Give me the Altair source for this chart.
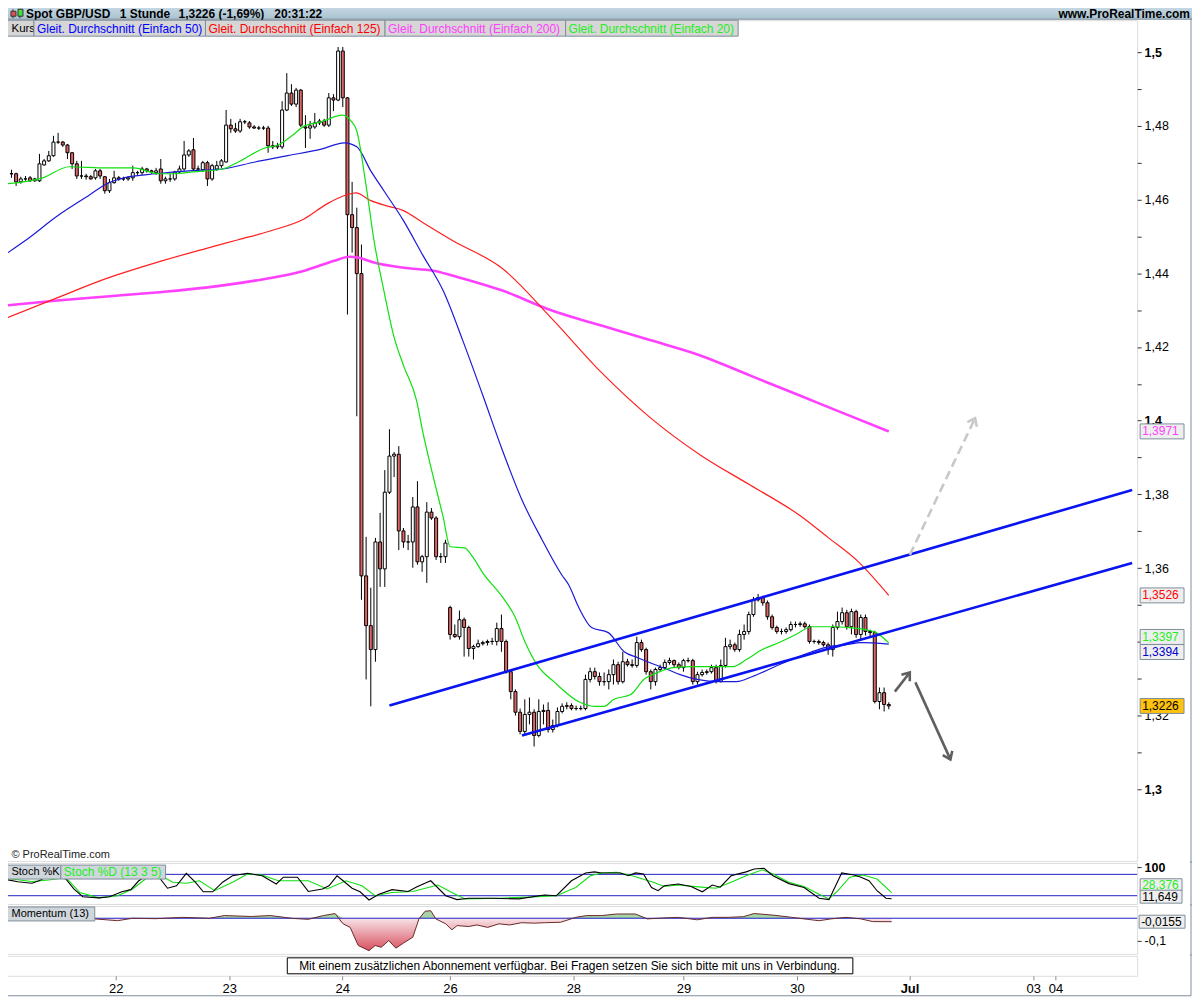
import altair as alt
import pandas as pd

FONT = "Liberation Sans"
FRAME = "#7f8e9b"
CANDLE_RED = "#e06464"

# ---------------- hourly candles GBP/USD ----------------
bar_open = [1.4670,1.4670,1.4648,1.4656,1.4659,1.4651,1.4651,1.4694,1.4705,1.4719,
 1.4756,1.4756,1.4748,1.4727,1.4697,1.4664,1.4664,1.4662,1.4659,1.4678,
 1.4662,1.4624,1.4646,1.4659,1.4656,1.4656,1.4659,1.4673,1.4673,1.4683,
 1.4678,1.4673,1.4683,1.4651,1.4656,1.4656,1.4675,1.4683,1.4721,1.4735,
 1.4683,1.4681,1.4700,1.4656,1.4683,1.4692,1.4702,1.4802,1.4792,1.4786,
 1.4811,1.4808,1.4797,1.4794,1.4794,1.4794,1.4746,1.4743,1.4743,1.4843,
 1.4889,1.4859,1.4897,1.4797,1.4794,1.4797,1.4808,1.4813,1.4802,1.4876,
 1.4870,1.5003,1.4876,1.4559,1.4524,1.4399,1.3579,1.3444,1.3379,1.3671,
 1.3598,1.3806,1.3904,1.3909,1.3701,1.3671,1.3671,1.3766,1.3617,1.3631,
 1.3752,1.3736,1.3631,1.3631,1.3493,1.3420,1.3414,1.3460,1.3439,1.3382,
 1.3387,1.3395,1.3398,1.3401,1.3401,1.3436,1.3401,1.3319,1.3265,1.3209,
 1.3157,1.3203,1.3209,1.3146,1.3211,1.3214,1.3162,1.3173,1.3211,1.3225,
 1.3227,1.3219,1.3219,1.3219,1.3298,1.3319,1.3306,1.3292,1.3292,1.3311,
 1.3338,1.3292,1.3346,1.3338,1.3336,1.3398,1.3379,1.3319,1.3292,1.3325,
 1.3330,1.3344,1.3349,1.3338,1.3330,1.3349,1.3349,1.3292,1.3311,1.3317,
 1.3319,1.3330,1.3292,1.3336,1.3387,1.3392,1.3379,1.3420,1.3428,1.3474,
 1.3514,1.3520,1.3506,1.3468,1.3439,1.3428,1.3428,1.3433,1.3447,1.3447,
 1.3449,1.3441,1.3401,1.3401,1.3398,1.3392,1.3379,1.3439,1.3455,1.3479,
 1.3441,1.3482,1.3420,1.3466,1.3428,1.3425,1.3238,1.3262,1.3230]
bar_high = [1.4681,1.4673,1.4662,1.4664,1.4664,1.4659,1.4724,1.4710,1.4732,1.4773,
 1.4781,1.4759,1.4751,1.4729,1.4705,1.4705,1.4670,1.4667,1.4683,1.4683,
 1.4664,1.4656,1.4678,1.4664,1.4662,1.4664,1.4692,1.4678,1.4689,1.4686,
 1.4681,1.4686,1.4710,1.4662,1.4670,1.4678,1.4692,1.4759,1.4737,1.4767,
 1.4692,1.4705,1.4705,1.4697,1.4705,1.4710,1.4843,1.4819,1.4808,1.4819,
 1.4816,1.4813,1.4802,1.4800,1.4800,1.4800,1.4759,1.4754,1.4867,1.4943,
 1.4913,1.4903,1.4900,1.4829,1.4813,1.4835,1.4819,1.4819,1.4889,1.4886,
 1.5014,1.5014,1.4878,1.4648,1.4578,1.4478,1.3685,1.3547,1.3682,1.3750,
 1.3866,1.3977,1.3915,1.3931,1.3709,1.3690,1.3793,1.3836,1.3636,1.3779,
 1.3763,1.3741,1.3641,1.3677,1.3498,1.3447,1.3485,1.3466,1.3444,1.3392,
 1.3406,1.3403,1.3406,1.3411,1.3452,1.3474,1.3406,1.3325,1.3271,1.3219,
 1.3244,1.3249,1.3217,1.3244,1.3230,1.3236,1.3189,1.3222,1.3233,1.3236,
 1.3233,1.3227,1.3227,1.3311,1.3330,1.3330,1.3317,1.3317,1.3325,1.3352,
 1.3346,1.3373,1.3354,1.3352,1.3414,1.3406,1.3384,1.3325,1.3330,1.3338,
 1.3352,1.3357,1.3352,1.3344,1.3354,1.3357,1.3354,1.3319,1.3325,1.3325,
 1.3338,1.3338,1.3352,1.3411,1.3406,1.3398,1.3433,1.3447,1.3482,1.3522,
 1.3530,1.3525,1.3512,1.3474,1.3444,1.3436,1.3439,1.3455,1.3455,1.3455,
 1.3455,1.3447,1.3406,1.3406,1.3403,1.3398,1.3447,1.3482,1.3493,1.3487,
 1.3490,1.3487,1.3474,1.3474,1.3433,1.3430,1.3276,1.3276,1.3236]
bar_low = [1.4659,1.4637,1.4643,1.4651,1.4648,1.4648,1.4648,1.4692,1.4702,1.4716,
 1.4751,1.4743,1.4710,1.4683,1.4656,1.4656,1.4654,1.4654,1.4654,1.4656,
 1.4616,1.4618,1.4643,1.4651,1.4651,1.4651,1.4651,1.4667,1.4667,1.4673,
 1.4670,1.4667,1.4643,1.4643,1.4648,1.4651,1.4670,1.4678,1.4716,1.4678,
 1.4678,1.4675,1.4637,1.4651,1.4678,1.4686,1.4700,1.4781,1.4781,1.4781,
 1.4805,1.4792,1.4792,1.4789,1.4789,1.4727,1.4737,1.4737,1.4737,1.4840,
 1.4854,1.4851,1.4797,1.4740,1.4765,1.4792,1.4802,1.4797,1.4797,1.4840,
 1.4867,1.4851,1.4288,1.4456,1.4012,1.3514,1.3298,1.3225,1.3346,1.3549,
 1.3549,1.3801,1.3847,1.3649,1.3655,1.3649,1.3601,1.3609,1.3590,1.3560,
 1.3731,1.3622,1.3614,1.3614,1.3406,1.3411,1.3406,1.3360,1.3360,1.3352,
 1.3384,1.3390,1.3390,1.3392,1.3390,1.3373,1.3314,1.3244,1.3200,1.3149,
 1.3149,1.3176,1.3116,1.3141,1.3176,1.3154,1.3154,1.3168,1.3206,1.3217,
 1.3214,1.3214,1.3214,1.3214,1.3290,1.3298,1.3281,1.3281,1.3271,1.3284,
 1.3284,1.3287,1.3333,1.3330,1.3330,1.3373,1.3311,1.3271,1.3281,1.3319,
 1.3325,1.3338,1.3330,1.3325,1.3319,1.3344,1.3284,1.3284,1.3306,1.3311,
 1.3314,1.3287,1.3290,1.3330,1.3379,1.3373,1.3373,1.3406,1.3420,1.3468,
 1.3509,1.3498,1.3460,1.3433,1.3422,1.3420,1.3422,1.3428,1.3439,1.3441,
 1.3436,1.3395,1.3395,1.3392,1.3387,1.3365,1.3360,1.3433,1.3447,1.3433,
 1.3420,1.3411,1.3406,1.3417,1.3411,1.3233,1.3217,1.3211,1.3217]
bar_close = [1.4670,1.4648,1.4656,1.4656,1.4651,1.4656,1.4697,1.4705,1.4719,1.4756,
 1.4756,1.4748,1.4727,1.4697,1.4664,1.4664,1.4662,1.4656,1.4678,1.4664,
 1.4624,1.4646,1.4659,1.4656,1.4656,1.4659,1.4673,1.4673,1.4683,1.4678,
 1.4675,1.4678,1.4651,1.4656,1.4656,1.4675,1.4683,1.4721,1.4732,1.4683,
 1.4683,1.4700,1.4656,1.4692,1.4692,1.4705,1.4802,1.4792,1.4786,1.4811,
 1.4811,1.4797,1.4794,1.4794,1.4794,1.4746,1.4743,1.4746,1.4843,1.4889,
 1.4859,1.4897,1.4802,1.4794,1.4800,1.4808,1.4813,1.4802,1.4876,1.4870,
 1.5003,1.4876,1.4559,1.4524,1.4399,1.3579,1.3444,1.3379,1.3671,1.3598,
 1.3806,1.3904,1.3909,1.3701,1.3671,1.3671,1.3766,1.3617,1.3631,1.3752,
 1.3736,1.3631,1.3631,1.3668,1.3420,1.3414,1.3460,1.3439,1.3382,1.3387,
 1.3395,1.3398,1.3401,1.3401,1.3436,1.3401,1.3319,1.3265,1.3209,1.3157,
 1.3203,1.3209,1.3146,1.3211,1.3214,1.3162,1.3173,1.3211,1.3225,1.3227,
 1.3219,1.3219,1.3219,1.3298,1.3319,1.3306,1.3292,1.3292,1.3311,1.3338,
 1.3292,1.3346,1.3338,1.3336,1.3398,1.3379,1.3319,1.3292,1.3325,1.3330,
 1.3344,1.3349,1.3338,1.3330,1.3349,1.3349,1.3292,1.3311,1.3317,1.3319,
 1.3330,1.3292,1.3336,1.3387,1.3392,1.3379,1.3420,1.3428,1.3474,1.3514,
 1.3520,1.3506,1.3468,1.3439,1.3428,1.3428,1.3433,1.3447,1.3447,1.3449,
 1.3441,1.3401,1.3401,1.3398,1.3392,1.3379,1.3439,1.3455,1.3479,1.3441,
 1.3482,1.3420,1.3466,1.3428,1.3425,1.3238,1.3262,1.3230,1.3226]

# ---------------- moving averages (bar index, price) ----------------
sma20_i = [-0.74,6.7,12.4,20.4,26.2,31.7,34.6,38.9,45.2,48.6,54.3,57.1,60.1,62.8,66.4,70.9,72.8,74.0,76.0,77.7,
           79.8,81.9,84.0,86.8,88.2,90.4,92.5,94.0,97.1,98.8,101.0,105.2,107.9,110.1,112.6,116.4,121.5,124.9,127.0,
           129.1,132.7,135.5,138.5,141.8,146.1,150.3,154.6,157.5,160.9,164.5,168.1,171.5,176.6,179.3,183.0,185.3,188.0]
sma20_p = [1.4643,1.4659,1.4689,1.4686,1.4686,1.4670,1.4670,1.4675,1.4683,1.4702,1.4740,1.4748,1.4773,1.4800,1.4811,
           1.4829,1.4813,1.4786,1.4637,1.4488,1.4353,1.4231,1.4150,1.4055,1.3966,1.3847,1.3739,1.3658,1.3655,1.3631,
           1.3587,1.3522,1.3468,1.3398,1.3338,1.3290,1.3238,1.3225,1.3225,1.3244,1.3257,1.3298,1.3317,1.3330,1.3333,
           1.3333,1.3333,1.3352,1.3379,1.3398,1.3420,1.3441,1.3441,1.3439,1.3433,1.3425,1.3397]
sma50_i = [-0.74,2.9,9.9,16.8,20.4,24.1,31.0,38.0,45.2,52.2,59.2,66.4,71.3,74.0,77.0,79.8,84.0,88.2,92.5,96.7,
           101.0,105.2,109.4,113.7,117.9,119.4,121.5,124.3,127.9,131.3,134.2,136.3,140.6,143.3,146.9,151.8,155.4,
           158.8,164.5,168.1,171.5,175.1,178.7,182.1,188.0]
sma50_p = [1.4456,1.4488,1.4556,1.4613,1.4643,1.4659,1.4670,1.4678,1.4683,1.4702,1.4719,1.4737,1.4754,1.4743,1.4678,
           1.4624,1.4543,1.4448,1.4353,1.4218,1.4069,1.3920,1.3785,1.3677,1.3582,1.3555,1.3495,1.3439,1.3425,1.3373,
           1.3357,1.3346,1.3325,1.3311,1.3298,1.3292,1.3292,1.3306,1.3338,1.3357,1.3373,1.3387,1.3392,1.3398,1.3394]
sma125_i = [-0.74,9.9,20.4,31.0,41.6,48.6,55.8,62.8,67.7,71.9,73.8,77.0,80.4,84.0,88.2,94.6,105.2,115.8,126.4,
            137.0,147.6,158.2,168.8,175.1,181.5,188.0]
sma125_p = [1.4280,1.4334,1.4386,1.4429,1.4467,1.4491,1.4516,1.4548,1.4589,1.4613,1.4618,1.4597,1.4583,1.4570,
            1.4537,1.4488,1.4413,1.4277,1.4131,1.4007,1.3907,1.3826,1.3744,1.3682,1.3617,1.3526]
sma200_i = [-0.74,9.9,20.4,31.0,41.6,52.2,62.8,69.2,72.4,74.5,77.7,84.0,90.4,96.7,105.2,115.8,126.4,137.0,147.6,
            158.2,168.8,179.3,188.0]
sma200_p = [1.4313,1.4326,1.4337,1.4348,1.4361,1.4380,1.4407,1.4434,1.4445,1.4442,1.4429,1.4415,1.4407,1.4386,
            1.4353,1.4299,1.4258,1.4218,1.4177,1.4123,1.4069,1.4015,1.3971]

# ---------------- drawn trend channel and arrows ----------------
chan_i1 = [81.0, 109.4]
chan_p1 = [1.3227, 1.3146]
chan_i2 = [240.15, 240.15]
chan_p2 = [1.3812, 1.3614]
arrow_i1 = [192.5, 189.3, 193.7]
arrow_p1 = [1.3636, 1.3265, 1.3290]
arrow_i2 = [206.5, 192.5, 201.2]
arrow_p2 = [1.4007, 1.3317, 1.3081]

# ---------------- stochastic (13 3 5) ----------------
stoch_k_i = [-0.7,2.4,5.4,6.9,9.0,12.6,14.3,16.2,19.6,21.9,24.5,26.4,28.1,30.0,31.7,34.2,36.1,38.2,40.1,41.8,
             43.8,45.9,48.0,51.2,54.3,57.3,58.8,61.8,64.1,67.1,68.5,70.2,71.5,73.4,75.1,77.0,79.1,81.9,85.3,87.2,
             90.1,93.3,95.7,98.2,103.1,108.8,114.3,116.8,120.0,123.0,124.9,126.4,130.4,132.1,133.6,135.3,137.0,138.4,
             139.7,142.7,145.4,147.8,149.9,151.6,153.9,157.1,158.8,160.9,162.8,166.2,169.4,172.6,174.7,177.4,180.0,
             181.5,183.2,184.9,186.8,188.0]
stoch_k_v = [67,59,55,62,76,67,39,17,14,17,31,37,62,78,84,41,48,83,58,31,31,58,76,83,76,53,72,72,32,39,48,76,62,41,
             31,8,24,37,32,45,62,20,9,13,13,11,22,20,62,84,87,84,84,76,84,81,43,34,48,53,46,31,50,44,76,87,95,97,76,
             54,43,13,9,84,78,72,62,34,13,11.649]
stoch_d_i = [-0.7,5.4,9.0,12.6,15.6,19.6,23.6,26.8,30.0,32.5,35.3,38.2,41.0,44.2,48.0,51.2,54.3,57.7,64.1,68.1,
             72.1,75.5,78.3,81.9,86.3,91.6,94.6,97.4,104.8,112.8,116.8,120.9,124.0,126.4,129.6,132.9,137.4,139.7,
             142.7,147.6,150.7,153.9,157.1,160.5,162.8,166.2,169.4,172.6,174.7,176.6,179.1,181.9,184.9,188.0]
stoch_d_v = [70,60,64,71,29,14,20,39,72,79,58,55,62,34,58,81,78,62,62,39,62,48,20,29,32,50,29,11,13,17,20,43,76,
             84,86,76,58,46,50,44,41,58,76,93,81,58,46,24,11,34,72,78,67,28.376]

# ---------------- momentum (13) ----------------
mom_i = [18.8,23.6,26.8,31.7,37.4,43.1,46.3,52.0,56.0,60.9,64.1,67.3,69.8,71.5,73.0,74.7,77.0,78.3,79.6,81.2,
         82.7,84.4,86.3,87.6,88.9,90.1,91.2,93.3,94.6,95.7,98.2,99.9,102.2,104.6,106.9,109.4,112.0,114.3,117.7,
         120.9,123.2,126.4,129.6,133.6,136.1,139.3,142.7,146.7,149.9,153.3,156.5,158.8,162.8,166.8,169.4,172.6,
         175.1,178.3,181.5,184.0,188.0]
mom_v = [-0.003,-0.011,0.0,-0.002,0.004,0.0,0.012,0.008,0.012,-0.001,-0.005,0.012,0.021,-0.025,-0.041,-0.122,
         -0.145,-0.122,-0.13,-0.1,-0.134,-0.11,-0.085,-0.003,0.031,0.034,-0.003,-0.025,-0.052,-0.033,-0.037,-0.03,
         -0.041,-0.025,-0.03,-0.02,-0.022,-0.02,-0.018,0.004,0.012,0.012,0.019,0.019,-0.003,0.001,0.004,-0.007,
         0.004,0.004,0.007,0.021,0.014,0.004,-0.003,-0.011,-0.003,0.004,-0.003,-0.015,-0.0155]

# ---------------- axes ----------------
price_ticks = [1.30,1.31,1.32,1.33,1.34,1.35,1.36,1.37,1.38,1.39,1.40,
               1.41,1.42,1.43,1.44,1.45,1.46,1.47,1.48,1.49,1.50]
date_pos = [23.2, 47.3, 71.3, 94.2, 120.4, 143.8, 167.9, 191.8, 218.1, 222.8]
date_lab = ["22", "23", "24", "26", "28", "29", "30", "Jul", "03", "04"]

# ================= build =================
W = 1137
H_MAIN, H_ST, H_MOM, H_MSG, H_HEAD = 843, 41, 48, 20, 17
ONE = pd.DataFrame({"k": [0]})
XS = alt.Scale(domain=[-0.74, 240.15], nice=False, zero=False)


def X(f):
    return alt.X(f, type="quantitative", scale=XS, axis=None, title=None)


def box(x0, x1, y0, y1, fill, stroke=FRAME, sw=1):
    kw = dict(fill=fill, strokeWidth=sw)
    if stroke:
        kw["stroke"] = stroke
    return alt.Chart(ONE).mark_rect(**kw).encode(
        x=alt.value(x0), x2=alt.value(x1), y=alt.value(y0), y2=alt.value(y1))


def txt(x, y, text, color="black", size=12, weight="normal", align="left"):
    return alt.Chart(ONE).mark_text(text=text, color=color, fontSize=size, fontWeight=weight,
                                    font=FONT, align=align, baseline="middle").encode(
        x=alt.value(x), y=alt.value(y))


def vrule(x, y0, y1, color=FRAME, w=1):
    return alt.Chart(ONE).mark_rule(color=color, strokeWidth=w).encode(
        x=alt.value(x), y=alt.value(y0), y2=alt.value(y1))


def tag(value, text, tcolor, fill, Yf, yoff=0, xc=1162, w=44, h=15, size=12):
    df = pd.DataFrame({"v": [value]})
    r = h / w
    shape = f"M -1 {-r} L 1 {-r} L 1 {r} L -1 {r} Z"
    pt = alt.Chart(df).mark_point(shape=shape, size=w * w, filled=True, fill=fill, stroke=FRAME,
                                  strokeWidth=1, opacity=1, yOffset=yoff).encode(
        x=alt.value(xc), y=Yf("v"))
    tx = alt.Chart(df).mark_text(text=text, color=tcolor, fontSize=size, font=FONT, align="left",
                                 baseline="middle", yOffset=yoff).encode(
        x=alt.value(xc - w / 2 + 2), y=Yf("v"))
    return [pt, tx]


# ---- main price panel ----
YS = alt.Scale(domain=[1.28051, 1.50866], nice=False, zero=False)
y_axis = alt.Axis(orient="right", values=price_ticks, tickSize=4, tickColor="#333333",
                  domain=False, grid=False, labelOverlap=False, labelFlush=False,
                  labelFont=FONT, labelFontSize=12.5, labelColor="black", labelPadding=3,
                  labelExpr="(round(datum.value*100) % 2 == 0 && round(datum.value*100) != 134) ? "
                            "replace(format(datum.value, '.2~f'), '.', ',') : ''",
                  labelFontWeight={"condition": {"test": "round(datum.value*100) % 10 == 0", "value": "bold"},
                                   "value": "normal"})


def YM(f):
    return alt.Y(f, type="quantitative", scale=YS, axis=y_axis, title=None)


candles = pd.DataFrame({"i": list(range(len(bar_close))), "o": bar_open, "h": bar_high,
                        "l": bar_low, "c": bar_close})

main_layers = []
main_layers.append(alt.Chart(candles).mark_rule(color="black", strokeWidth=1).encode(
    x=X("i"), y=YM("l"), y2=alt.Y2("h")))
main_layers.append(alt.Chart(candles).mark_bar(size=3, stroke="black", strokeWidth=1).encode(
    x=X("i"), y=YM("o"), y2=alt.Y2("c"),
    fill=alt.condition("datum.c < datum.o", alt.value(CANDLE_RED), alt.value("white"))))

for xs, ys, col, sw in [(sma200_i, sma200_p, "#ff40ff", 2.6), (sma125_i, sma125_p, "#ff2020", 1.2),
                        (sma50_i, sma50_p, "#1a1ad8", 1.2), (sma20_i, sma20_p, "#10e010", 1.2)]:
    main_layers.append(alt.Chart(pd.DataFrame({"i": xs, "p": ys})).mark_line(
        color=col, strokeWidth=sw, interpolate="monotone").encode(x=X("i"), y=YM("p")))

chan = pd.DataFrame({"x1": chan_i1, "y1": chan_p1, "x2": chan_i2, "y2": chan_p2})
main_layers.append(alt.Chart(chan).mark_rule(color="#0a14f0", strokeWidth=2.6).encode(
    x=X("x1"), y=YM("y1"), x2=alt.X2("x2"), y2=alt.Y2("y2")))

arrow_style = [("#c8c8c8", [9, 5], 25.7), ("#5f5f5f", None, 36.9), ("#5f5f5f", None, 155.6)]
HEAD = "M -0.75 1 L 0 0 L 0.75 1"
for k, (col, dash, ang) in enumerate(arrow_style):
    df = pd.DataFrame({"x1": [arrow_i1[k]], "y1": [arrow_p1[k]], "x2": [arrow_i2[k]], "y2": [arrow_p2[k]]})
    kw = dict(color=col, strokeWidth=2.6)
    if dash:
        kw["strokeDash"] = dash
    main_layers.append(alt.Chart(df).mark_rule(**kw).encode(
        x=X("x1"), y=YM("y1"), x2=alt.X2("x2"), y2=alt.Y2("y2")))
    main_layers.append(alt.Chart(df).mark_point(shape=HEAD, size=196, filled=False, stroke=col,
                                                strokeWidth=2.6, opacity=1, angle=ang).encode(
        x=X("x2"), y=YM("y2")))

# legend row
legend_items = [("Kurs", 0, 31, "black", 8.5),
                ("Gleit. Durchschnitt (Einfach 50)", 31, 203, "#0000ff", 34),
                ("Gleit. Durchschnitt (Einfach 125)", 203, 383, "#ff0000", 206),
                ("Gleit. Durchschnitt (Einfach 200)", 383, 564, "#ff40ff", 386),
                ("Gleit. Durchschnitt (Einfach 20)", 564, 737, "#22ee22", 567)]
for t, a, b, col, tx in legend_items:
    main_layers.append(box(a, b, 0, 16, "#d6d6d6"))
    main_layers.append(txt(tx, 8.5, t, col, 11.5 if t == "Kurs" else 12))
main_layers.append(txt(8.5, 837, "© ProRealTime.com", "#222222", 11))

# last value tags
for v, t, tc, fill, off in [(1.3971, "1,3971", "#ff40ff", "#eeeeee", 0),
                            (1.3526, "1,3526", "#ff0000", "#eeeeee", 0),
                            (1.3397, "1,3397", "#22ee22", "#eeeeee", -6),
                            (1.3394, "1,3394", "#0000cc", "#eeeeee", 8),
                            (1.3226, "1,3226", "black", "#ffc20e", 0)]:
    main_layers += tag(v, t, tc, fill, YM, off)
main_layers.append(vrule(1191, -2, H_MAIN + 2))

main = alt.layer(*main_layers).properties(width=W, height=H_MAIN)

# ---- stochastic panel ----
YST = alt.Scale(domain=[-3.27, 111.68], nice=False, zero=False)
st_axis = alt.Axis(orient="right", values=[100], tickSize=4, tickColor="#333333", domain=False, grid=False,
                   labelExpr="'100'", labelFont=FONT, labelFontSize=12.5, labelFontWeight="bold",
                   labelColor="black", labelPadding=3, labelFlush=False, labelOverlap=False)


def YSt(f):
    return alt.Y(f, type="quantitative", scale=YST, axis=st_axis, title=None)


levels = pd.DataFrame({"v": [20, 80]})
st_layers = [
    alt.Chart(levels).mark_rule(color="#2020c8", strokeWidth=1).encode(
        y=YSt("v"), x=alt.value(0), x2=alt.value(W)),
    alt.Chart(pd.DataFrame({"i": stoch_d_i, "v": stoch_d_v})).mark_line(color="#10e010", strokeWidth=1.1).encode(
        x=X("i"), y=YSt("v")),
    alt.Chart(pd.DataFrame({"i": stoch_k_i, "v": stoch_k_v})).mark_line(color="black", strokeWidth=1.1).encode(
        x=X("i"), y=YSt("v")),
    box(0, 58, 2, 16, "#cfd6dc"), txt(8.5, 9, "Stoch %K", "black", 11),
    box(58, 163, 2, 16, "#cfd6dc"), txt(61, 9, "Stoch %D (13 3 5)", "#22ee22", 12),
]
st_layers += tag(28.376, "28,376", "#22ee22", "#eeeeee", YSt, -8, xc=1161, w=42, h=12)
st_layers += tag(11.649, "11,649", "black", "#eeeeee", YSt, -2, xc=1161, w=42, h=13)
st_layers.append(vrule(1191, -2, H_ST + 2))
stoch = alt.layer(*st_layers).properties(width=W, height=H_ST)

# ---- momentum panel ----
YMO = alt.Scale(domain=[-0.1594, 0.0549], nice=False, zero=False)
mo_axis = alt.Axis(orient="right", values=[-0.1], tickSize=4, tickColor="#333333", domain=False, grid=False,
                   labelExpr="replace(toString(datum.value), '.', ',')", labelFont=FONT, labelFontSize=12.5,
                   labelColor="black", labelPadding=3, labelFlush=False, labelOverlap=False)


def YMo(f):
    return alt.Y(f, type="quantitative", scale=YMO, axis=mo_axis, title=None)


mom = pd.DataFrame({"i": mom_i, "v": mom_v})
neg_grad = alt.LinearGradient(gradient="linear", x1=0, x2=0, y1=0, y2=1,
                              stops=[alt.GradientStop(color="#f8e4e8", offset=0),
                                     alt.GradientStop(color="#d8505f", offset=1)])
mo_layers = [
    alt.Chart(mom).transform_calculate(pos="max(datum.v, 0)", z="0").mark_area(
        color="#9ccf9c", opacity=0.9).encode(x=X("i"), y=YMo("pos:Q"), y2=alt.Y2("z:Q")),
    alt.Chart(mom).transform_calculate(neg="min(datum.v, 0)", z="0").mark_area(
        fill=neg_grad).encode(x=X("i"), y=YMo("neg:Q"), y2=alt.Y2("z:Q")),
    alt.Chart(pd.DataFrame({"v": [0]})).mark_rule(color="#2020c8", strokeWidth=1).encode(
        y=YMo("v"), x=alt.value(0), x2=alt.value(W)),
    alt.Chart(mom).mark_line(color="#6a2a2a", strokeWidth=1).encode(x=X("i"), y=YMo("v")),
    box(0, 92, 1, 15, "#cfd6dc"), txt(8.5, 8, "Momentum (13)", "black", 11),
]
mo_layers += tag(-0.0155, "-0,0155", "black", "#eeeeee", YMo, 0, xc=1162, w=46, h=13)
mo_layers.append(vrule(1191, -2, H_MOM + 2))
momentum = alt.layer(*mo_layers).properties(width=W, height=H_MOM)

# ---- message + date axis ----
lab_expr = "[" + ",".join(f"'{s}'" for s in date_lab) + "][indexof([" + \
           ",".join(str(p) for p in date_pos) + "], datum.value)]"
x_axis = alt.Axis(orient="bottom", values=date_pos, labelExpr=lab_expr, tickSize=4, tickColor=FRAME,
                  domain=False, grid=False, labelFont=FONT, labelFontSize=13, labelColor="black",
                  labelPadding=3, labelOverlap=False, labelFlush=False,
                  labelFontWeight={"condition": {"test": f"datum.value == {date_pos[7]}", "value": "bold"},
                                   "value": "normal"})
ticks_df = pd.DataFrame({"i": date_pos})
msg_layers = [
    alt.Chart(ticks_df).mark_point(opacity=0).encode(
        x=alt.X("i", type="quantitative", scale=XS, axis=x_axis, title=None), y=alt.value(10)),
    box(285, 852, 2, 18, "white", "black", 1),
    txt(568, 10.5, "Mit einem zusätzlichen Abonnement verfügbar. Bei Fragen setzen Sie sich bitte mit uns in Verbindung.",
        "black", 12, align="center"),
    alt.Chart(ONE).mark_rule(color=FRAME, strokeWidth=1).encode(
        x=alt.value(0), x2=alt.value(1191), y=alt.value(40)),
    vrule(1191, -2, 40),
]
msg = alt.layer(*msg_layers).properties(width=W, height=H_MSG)

# ---- header ----
head_grad = alt.LinearGradient(gradient="linear", x1=0, x2=0, y1=0, y2=1,
                               stops=[alt.GradientStop(color="#d4e3ec", offset=0),
                                      alt.GradientStop(color="#a9c2d0", offset=1)])
head_layers = [
    alt.Chart(ONE).mark_rect(fill=head_grad).encode(
        x=alt.value(0), x2=alt.value(1200), y=alt.value(0), y2=alt.value(18)),
    alt.Chart(ONE).mark_rule(color=FRAME).encode(x=alt.value(0), x2=alt.value(1200), y=alt.value(18)),
    vrule(10, 8, 17, "#333333"), box(8, 13, 10, 15, "#e05050", "#333333"),
    vrule(17, 8, 17, "#333333"), box(15, 20, 8, 15, "#40e040", "#333333"),
    txt(23, 12.5, "Spot GBP/USD", "black", 12, "bold"),
    txt(117, 12.5, "1 Stunde", "black", 12, "bold"),
    txt(176, 12.5, "1,3226 (-1,69%)", "black", 12, "bold"),
    txt(272, 12.5, "20:31:22", "black", 12, "bold"),
    txt(1190, 12.5, "www.ProRealTime.com", "black", 12, "bold", align="right"),
]
header = alt.layer(*head_layers).properties(width=1197, height=H_HEAD,
                                            view=alt.ViewBackground(stroke=None))

chart = alt.vconcat(header, main, stoch, momentum, msg, spacing=2, bounds="flush",
                    padding={"left": -8, "top": -8, "right": -9, "bottom": 0}).configure_view(
    stroke=FRAME, strokeWidth=1).configure(background="white")

chart.save("out.html", embed_options={"renderer": "svg", "actions": False})
